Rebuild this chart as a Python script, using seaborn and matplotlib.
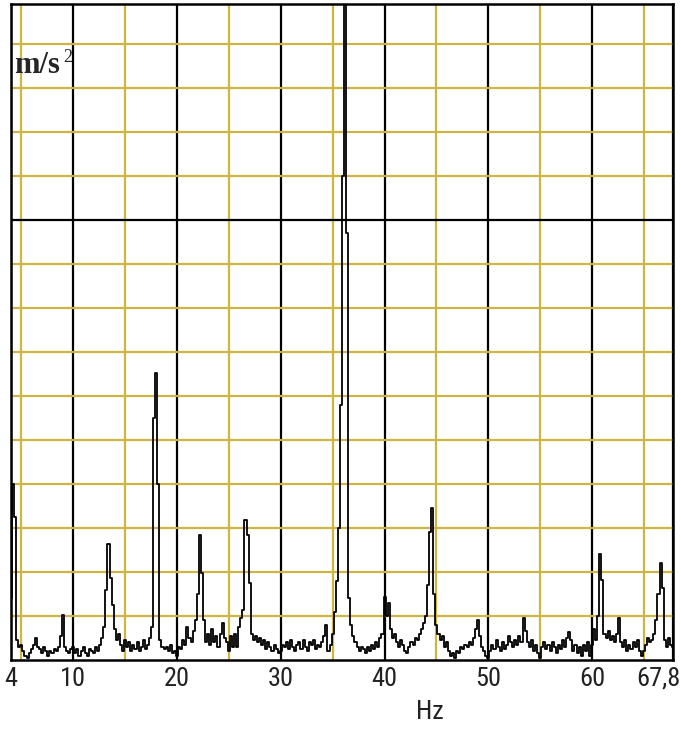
import numpy as np
import pandas as pd
import matplotlib
matplotlib.use("Agg")
import matplotlib.pyplot as plt
import matplotlib.transforms as mtransforms
from matplotlib import font_manager
import seaborn as sns

# ---- data ----
freq_start, freq_stop, freq_step = 4.0, 67.8, 0.2
amplitude = [
    1.4, 4.0, 3.25, 0.45, 0.3, 0.35, 0.2, 0.1, 0.05, 0.15,      # 4.0 - 5.8
    0.25, 0.35, 0.5, 0.3, 0.25, 0.15, 0.3, 0.2, 0.1, 0.2,       # 6.0 - 7.8
    0.15, 0.25, 0.2, 0.3, 0.55, 1.02, 0.3, 0.2, 0.15, 0.25,     # 8.0 - 9.8
    0.3, 0.15, 0.25, 0.1, 0.2, 0.3, 0.15, 0.1, 0.25, 0.2,       # 10.0 - 11.8
    0.15, 0.3, 0.2, 0.35, 0.5, 0.75, 1.6, 2.63, 1.86, 1.25,     # 12.0 - 13.8
    0.7, 0.45, 0.6, 0.35, 0.2, 0.45, 0.3, 0.4, 0.2, 0.35,       # 14.0 - 15.8
    0.25, 0.4, 0.2, 0.3, 0.45, 0.25, 0.35, 0.5, 0.75, 5.5,      # 16.0 - 17.8
    6.52, 4.0, 0.45, 0.3, 0.25, 0.3, 0.2, 0.35, 0.15, 0.2,      # 18.0 - 19.8
    0.1, 0.3, 0.25, 0.45, 0.35, 0.75, 0.5, 0.4, 0.65, 0.9,      # 20.0 - 21.8
    1.5, 2.84, 1.98, 0.9, 0.4, 0.6, 0.35, 0.7, 0.4, 0.55,       # 22.0 - 23.8
    0.3, 0.6, 0.85, 0.5, 0.4, 0.2, 0.55, 0.3, 0.6, 0.3,         # 24.0 - 25.8
    0.75, 0.95, 1.14, 3.18, 2.84, 1.75, 0.6, 0.45, 0.55, 0.4,   # 26.0 - 27.8
    0.5, 0.35, 0.45, 0.25, 0.4, 0.3, 0.2, 0.35, 0.25, 0.15,     # 28.0 - 29.8
    0.2, 0.35, 0.3, 0.4, 0.25, 0.45, 0.3, 0.2, 0.35, 0.4,       # 30.0 - 31.8
    0.25, 0.45, 0.3, 0.2, 0.4, 0.35, 0.45, 0.25, 0.35, 0.3,     # 32.0 - 33.8
    0.4, 0.55, 0.8, 0.2, 0.35, 0.6, 1.1, 1.8, 3.0, 5.8,         # 34.0 - 35.8
    11.0, 15.5, 9.7, 1.4, 0.8, 0.55, 0.4, 0.3, 0.2, 0.3,        # 36.0 - 37.8
    0.25, 0.15, 0.3, 0.2, 0.35, 0.25, 0.4, 0.3, 0.5, 0.6,       # 38.0 - 39.8
    1.43, 1.0, 1.3, 0.7, 0.5, 0.6, 0.4, 0.3, 0.45, 0.35,        # 40.0 - 41.8
    0.2, 0.15, 0.3, 0.4, 0.35, 0.5, 0.45, 0.6, 0.7, 0.85,       # 42.0 - 43.8
    1.0, 1.7, 2.9, 3.45, 1.5, 0.8, 0.6, 0.45, 0.55, 0.3,        # 44.0 - 45.8
    0.4, 0.2, 0.1, 0.15, 0.05, 0.2, 0.15, 0.3, 0.25, 0.35,      # 46.0 - 47.8
    0.3, 0.4, 0.35, 0.5, 0.7, 0.9, 0.55, 0.3, 0.2, 0.1,         # 48.0 - 49.8
    0.05, 0.2, 0.35, 0.25, 0.45, 0.3, 0.2, 0.4, 0.25, 0.35,     # 50.0 - 51.8
    0.55, 0.4, 0.3, 0.45, 0.35, 0.55, 0.4, 0.95, 0.65, 0.4,     # 52.0 - 53.8
    0.3, 0.45, 0.2, 0.35, 0.15, 0.05, 0.3, 0.4, 0.25, 0.35,     # 54.0 - 55.8
    0.2, 0.4, 0.3, 0.15, 0.35, 0.25, 0.45, 0.3, 0.5, 0.64,      # 56.0 - 57.8
    0.45, 0.2, 0.35, 0.15, 0.3, 0.1, 0.35, 0.2, 0.4, 0.1,       # 58.0 - 59.8
    0.35, 0.7, 0.45, 1.0, 2.42, 1.82, 0.6, 0.5, 0.65, 0.45,     # 60.0 - 61.8
    0.55, 0.4, 0.6, 0.95, 0.4, 0.3, 0.45, 0.2, 0.35, 0.25,      # 62.0 - 63.8
    0.4, 0.3, 0.45, 0.2, 0.1, 0.2, 0.35, 0.5, 0.4, 0.45,        # 64.0 - 65.8
    0.6, 0.9, 1.5, 2.2, 1.63, 0.45, 0.3, 0.5, 0.35, 0.3,        # 66.0 - 67.8
]
freq = np.round(freq_start + freq_step * np.arange(len(amplitude)), 1)

x_major_ticks = [4, 10, 20, 30, 40, 50, 60, 67.8]
x_major_labels = ["4", "10", "20", "30", "40", "50", "60", "67,8"]
x_minor_ticks = [5, 15, 25, 35, 45, 55, 65]
y_major_ticks = [10]
y_minor_ticks = [1, 2, 3, 4, 5, 6, 7, 8, 9, 11, 12, 13, 14]
y_top = 14.91
unit_label = "m/s"
unit_power = "2"
x_label = "Hz"

df = pd.DataFrame({"freq": freq, "amp": amplitude})

# ---- fonts ----
available = {f.name for f in font_manager.fontManager.ttflist}
sans = next((f for f in ["Liberation Sans Narrow", "Roboto Condensed", "Liberation Sans", "DejaVu Sans"]
             if f in available), "DejaVu Sans")
serif = next((f for f in ["Liberation Serif", "DejaVu Serif"] if f in available), "DejaVu Serif")

sns.set_style("white")
plt.rcParams["font.family"] = [sans, "DejaVu Sans"]

W, H = 681, 729
fig = plt.figure(figsize=(W / 100, H / 100), dpi=100)
fig.patch.set_facecolor("white")
ax = fig.add_axes([11 / W, 1 - 660 / H, (673 - 11) / W, (660 - 4) / H])
ax.set_facecolor("white")

yellow = "#CDB443"

sns.lineplot(data=df, x="freq", y="amp", ax=ax, color="black", linewidth=1.3,
             drawstyle="steps-mid", estimator=None, zorder=5)

ax.set_xlim(freq_start, freq_stop)
ax.set_ylim(0, y_top)

ax.set_xticks(x_major_ticks)
ax.set_xticklabels(x_major_labels)
ax.set_xticks(x_minor_ticks, minor=True)
ax.set_yticks(y_major_ticks)
ax.set_yticks(y_minor_ticks, minor=True)
ax.set_yticklabels([])

ax.grid(which="minor", color=yellow, linewidth=1.6, zorder=1)
ax.grid(which="major", color="black", linewidth=1.6, zorder=2)
ax.set_axisbelow(True)

ax.tick_params(which="both", length=0)
ax.tick_params(axis="x", which="major", labelsize=19, pad=5, labelcolor="#222222")
ax.tick_params(axis="y", which="both", left=False, labelleft=False)

labels = ax.get_xticklabels()
labels[-1].set_horizontalalignment("right")
labels[-1].set_transform(labels[-1].get_transform() +
                         mtransforms.ScaledTranslation(7 / 100, 0, fig.dpi_scale_trans))

for s in ax.spines.values():
    s.set_color("black")
    s.set_linewidth(1.8)
    s.set_visible(True)

ax.set_xlabel("")
ax.set_ylabel("")

fig.text(430 / W, 1 - 712 / H, x_label, ha="center", va="center", fontsize=19, color="#222222")
fig.text(14 / W, 1 - 73 / H, unit_label, ha="left", va="baseline", fontsize=22,
         fontweight="bold", family=serif)
fig.text(63 / W, 1 - 62 / H, unit_power, ha="left", va="baseline", fontsize=13,
         family=serif)

fig.savefig("out.png", dpi=100, facecolor="white")
